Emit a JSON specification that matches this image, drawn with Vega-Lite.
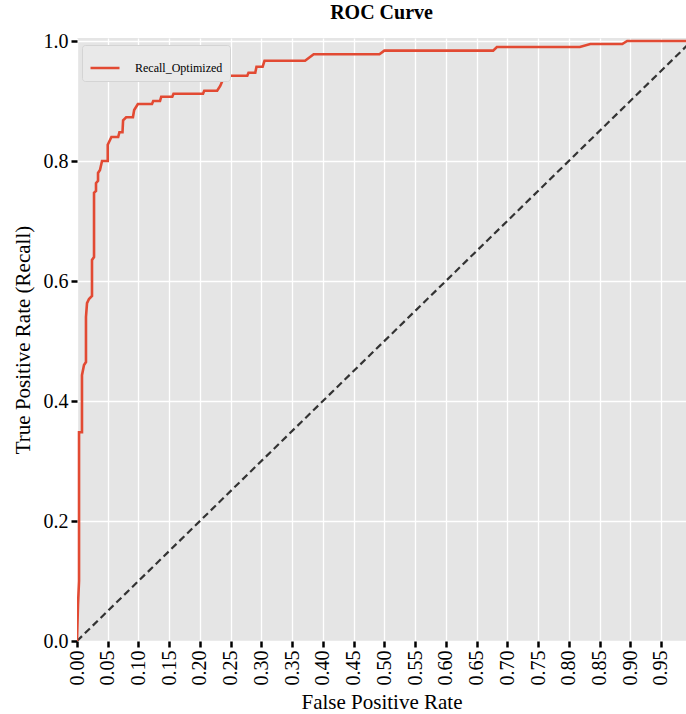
{
  "$schema": "https://vega.github.io/schema/vega-lite/v6.json",
  "width": 609,
  "height": 603,
  "autosize": "none",
  "padding": {"left": 77, "top": 38, "right": 0, "bottom": 73},
  "background": "white",
  "config": {
    "view": {"fill": "#e5e5e5", "stroke": null},
    "font": "'Liberation Serif', 'Times New Roman', serif",
    "axis": {
      "domain": false,
      "gridColor": "white",
      "gridWidth": 1.3,
      "tickColor": "black",
      "tickWidth": 2.5,
      "tickSize": 6,
      "labelFont": "'Liberation Serif', 'Times New Roman', serif",
      "labelFontSize": 20,
      "labelColor": "black",
      "titleFont": "'Liberation Serif', 'Times New Roman', serif",
      "titleFontSize": 21,
      "titleFontWeight": "normal",
      "titleColor": "black"
    },
    "legend": {
      "labelFont": "'Liberation Serif', 'Times New Roman', serif"
    },
    "title": {
      "font": "'Liberation Serif', 'Times New Roman', serif"
    }
  },
  "title": {"text": "ROC Curve", "fontSize": 20, "fontWeight": "bold", "color": "black", "offset": 8},
  "datasets": {
    "diag": [{"fpr": 0, "tpr": 0}, {"fpr": 1, "tpr": 1}],
    "roc": [
      {"i": 0, "fpr": 0, "tpr": 0, "model": "Recall_Optimized"},
      {"i": 1, "fpr": 0.0016, "tpr": 0.06, "model": "Recall_Optimized"},
      {"i": 2, "fpr": 0.0033, "tpr": 0.10, "model": "Recall_Optimized"},
      {"i": 3, "fpr": 0.0033, "tpr": 0.348, "model": "Recall_Optimized"},
      {"i": 4, "fpr": 0.0081, "tpr": 0.348, "model": "Recall_Optimized"},
      {"i": 5, "fpr": 0.0081, "tpr": 0.443, "model": "Recall_Optimized"},
      {"i": 6, "fpr": 0.0114, "tpr": 0.46, "model": "Recall_Optimized"},
      {"i": 7, "fpr": 0.0146, "tpr": 0.465, "model": "Recall_Optimized"},
      {"i": 8, "fpr": 0.0146, "tpr": 0.54, "model": "Recall_Optimized"},
      {"i": 9, "fpr": 0.0163, "tpr": 0.563, "model": "Recall_Optimized"},
      {"i": 10, "fpr": 0.0195, "tpr": 0.57, "model": "Recall_Optimized"},
      {"i": 11, "fpr": 0.0244, "tpr": 0.575, "model": "Recall_Optimized"},
      {"i": 12, "fpr": 0.0244, "tpr": 0.635, "model": "Recall_Optimized"},
      {"i": 13, "fpr": 0.0277, "tpr": 0.64, "model": "Recall_Optimized"},
      {"i": 14, "fpr": 0.0277, "tpr": 0.747, "model": "Recall_Optimized"},
      {"i": 15, "fpr": 0.0309, "tpr": 0.75, "model": "Recall_Optimized"},
      {"i": 16, "fpr": 0.0309, "tpr": 0.763, "model": "Recall_Optimized"},
      {"i": 17, "fpr": 0.0342, "tpr": 0.767, "model": "Recall_Optimized"},
      {"i": 18, "fpr": 0.0342, "tpr": 0.78, "model": "Recall_Optimized"},
      {"i": 19, "fpr": 0.0374, "tpr": 0.785, "model": "Recall_Optimized"},
      {"i": 20, "fpr": 0.0407, "tpr": 0.80, "model": "Recall_Optimized"},
      {"i": 21, "fpr": 0.050, "tpr": 0.80, "model": "Recall_Optimized"},
      {"i": 22, "fpr": 0.050, "tpr": 0.827, "model": "Recall_Optimized"},
      {"i": 23, "fpr": 0.056, "tpr": 0.84, "model": "Recall_Optimized"},
      {"i": 24, "fpr": 0.067, "tpr": 0.84, "model": "Recall_Optimized"},
      {"i": 25, "fpr": 0.069, "tpr": 0.848, "model": "Recall_Optimized"},
      {"i": 26, "fpr": 0.074, "tpr": 0.848, "model": "Recall_Optimized"},
      {"i": 27, "fpr": 0.075, "tpr": 0.868, "model": "Recall_Optimized"},
      {"i": 28, "fpr": 0.080, "tpr": 0.873, "model": "Recall_Optimized"},
      {"i": 29, "fpr": 0.091, "tpr": 0.873, "model": "Recall_Optimized"},
      {"i": 30, "fpr": 0.093, "tpr": 0.885, "model": "Recall_Optimized"},
      {"i": 31, "fpr": 0.099, "tpr": 0.895, "model": "Recall_Optimized"},
      {"i": 32, "fpr": 0.122, "tpr": 0.895, "model": "Recall_Optimized"},
      {"i": 33, "fpr": 0.124, "tpr": 0.90, "model": "Recall_Optimized"},
      {"i": 34, "fpr": 0.135, "tpr": 0.90, "model": "Recall_Optimized"},
      {"i": 35, "fpr": 0.137, "tpr": 0.907, "model": "Recall_Optimized"},
      {"i": 36, "fpr": 0.155, "tpr": 0.907, "model": "Recall_Optimized"},
      {"i": 37, "fpr": 0.157, "tpr": 0.912, "model": "Recall_Optimized"},
      {"i": 38, "fpr": 0.205, "tpr": 0.912, "model": "Recall_Optimized"},
      {"i": 39, "fpr": 0.207, "tpr": 0.917, "model": "Recall_Optimized"},
      {"i": 40, "fpr": 0.228, "tpr": 0.917, "model": "Recall_Optimized"},
      {"i": 41, "fpr": 0.233, "tpr": 0.925, "model": "Recall_Optimized"},
      {"i": 42, "fpr": 0.240, "tpr": 0.942, "model": "Recall_Optimized"},
      {"i": 43, "fpr": 0.277, "tpr": 0.942, "model": "Recall_Optimized"},
      {"i": 44, "fpr": 0.279, "tpr": 0.947, "model": "Recall_Optimized"},
      {"i": 45, "fpr": 0.290, "tpr": 0.947, "model": "Recall_Optimized"},
      {"i": 46, "fpr": 0.292, "tpr": 0.957, "model": "Recall_Optimized"},
      {"i": 47, "fpr": 0.302, "tpr": 0.957, "model": "Recall_Optimized"},
      {"i": 48, "fpr": 0.305, "tpr": 0.967, "model": "Recall_Optimized"},
      {"i": 49, "fpr": 0.371, "tpr": 0.967, "model": "Recall_Optimized"},
      {"i": 50, "fpr": 0.385, "tpr": 0.978, "model": "Recall_Optimized"},
      {"i": 51, "fpr": 0.492, "tpr": 0.978, "model": "Recall_Optimized"},
      {"i": 52, "fpr": 0.500, "tpr": 0.984, "model": "Recall_Optimized"},
      {"i": 53, "fpr": 0.677, "tpr": 0.984, "model": "Recall_Optimized"},
      {"i": 54, "fpr": 0.683, "tpr": 0.99, "model": "Recall_Optimized"},
      {"i": 55, "fpr": 0.818, "tpr": 0.99, "model": "Recall_Optimized"},
      {"i": 56, "fpr": 0.835, "tpr": 0.995, "model": "Recall_Optimized"},
      {"i": 57, "fpr": 0.887, "tpr": 0.995, "model": "Recall_Optimized"},
      {"i": 58, "fpr": 0.895, "tpr": 1.0, "model": "Recall_Optimized"},
      {"i": 59, "fpr": 1.0, "tpr": 1.0, "model": "Recall_Optimized"}
    ]
  },
  "encoding": {
    "x": {
      "field": "fpr",
      "type": "quantitative",
      "scale": {"domain": [0, 0.9907], "nice": false, "zero": false},
      "axis": {
        "title": "False Positive Rate",
        "values": [0, 0.05, 0.1, 0.15, 0.2, 0.25, 0.3, 0.35, 0.4, 0.45, 0.5, 0.55, 0.6, 0.65, 0.7, 0.75, 0.8, 0.85, 0.9, 0.95],
        "format": ".2f",
        "labelAngle": -90,
        "labelPadding": 3,
        "titlePadding": 6
      }
    },
    "y": {
      "field": "tpr",
      "type": "quantitative",
      "scale": {"domain": [0, 1.005], "nice": false, "zero": false},
      "axis": {
        "title": "True Positive Rate (Recall)",
        "values": [0, 0.2, 0.4, 0.6, 0.8, 1.0],
        "format": ".1f",
        "labelPadding": 3,
        "titlePadding": 10
      }
    }
  },
  "layer": [
    {
      "data": {"name": "diag"},
      "mark": {"type": "line", "clip": true, "color": "#333333", "strokeWidth": 2.2, "strokeDash": [7, 4]},
      "encoding": {}
    },
    {
      "data": {"name": "roc"},
      "mark": {"type": "line", "clip": true, "strokeWidth": 2.6},
      "encoding": {
        "order": {"field": "i", "type": "quantitative"},
        "color": {
          "field": "model",
          "type": "nominal",
          "scale": {"range": ["#E24A33"]},
          "legend": {
            "orient": "none",
            "legendX": 5,
            "legendY": 7,
            "title": null,
            "symbolType": "stroke",
            "symbolSize": 841,
            "symbolStrokeWidth": 2.5,
            "labelFontSize": 12,
            "labelColor": "black",
            "labelOffset": 14,
            "fillColor": "#e9e9e9",
            "strokeColor": "#d4d4d4",
            "padding": 7,
            "cornerRadius": 3
          }
        }
      }
    }
  ]
}
